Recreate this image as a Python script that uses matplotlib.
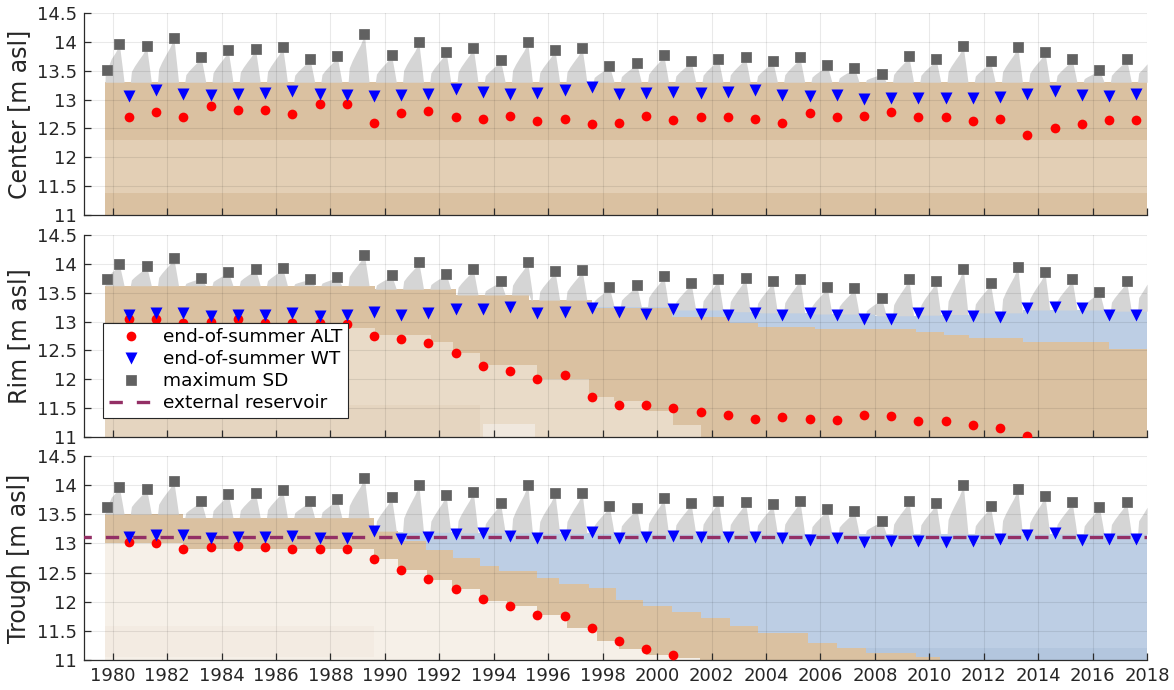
import numpy as np
import matplotlib
matplotlib.use('Agg')
import matplotlib.pyplot as plt
from matplotlib.lines import Line2D
from matplotlib.ticker import FormatStrFormatter

# ---- yearly markers ---------------------------------------------------------
years = np.arange(1980, 2018)
summer_end = years + 0.6                      # end-of-summer dates
sd_time = np.r_[1979.8, years + 0.25]         # dates of the snow maximum
run_start = 1979.72
run_end = 2018.0

center_sd_max = [13.52, 13.96, 13.92, 14.07, 13.74, 13.85, 13.88, 13.91, 13.71, 13.75,
                 14.13, 13.77, 13.99, 13.83, 13.90, 13.68, 13.99, 13.86, 13.89, 13.58,
                 13.63, 13.77, 13.67, 13.71, 13.73, 13.67, 13.73, 13.60, 13.55, 13.45,
                 13.75, 13.70, 13.92, 13.66, 13.91, 13.82, 13.70, 13.51, 13.70]
center_alt = [12.70, 12.79, 12.69, 12.88, 12.82, 12.82, 12.75, 12.93, 12.93, 12.59,
              12.76, 12.81, 12.70, 12.66, 12.72, 12.63, 12.66, 12.57, 12.59, 12.72,
              12.64, 12.70, 12.70, 12.66, 12.60, 12.76, 12.70, 12.72, 12.79, 12.70,
              12.69, 12.63, 12.66, 12.39, 12.51, 12.57, 12.64, 12.64]
center_wt = [13.07, 13.16, 13.10, 13.08, 13.09, 13.11, 13.14, 13.09, 13.08, 13.07,
             13.08, 13.09, 13.19, 13.13, 13.10, 13.11, 13.16, 13.22, 13.10, 13.11,
             13.13, 13.11, 13.13, 13.16, 13.08, 13.07, 13.08, 13.01, 13.03, 13.03,
             13.02, 13.03, 13.05, 13.10, 13.14, 13.08, 13.07, 13.10]

rim_sd_max = [13.73, 13.99, 13.96, 14.10, 13.76, 13.86, 13.91, 13.92, 13.74, 13.77,
              14.16, 13.80, 14.03, 13.83, 13.91, 13.70, 14.03, 13.88, 13.89, 13.59,
              13.63, 13.79, 13.67, 13.73, 13.76, 13.70, 13.74, 13.60, 13.58, 13.40,
              13.74, 13.70, 13.91, 13.66, 13.95, 13.85, 13.73, 13.52, 13.70]
rim_alt = [13.04, 13.04, 12.98, 13.00, 13.04, 12.98, 12.98, 12.98, 12.96, 12.75,
           12.69, 12.63, 12.45, 12.23, 12.15, 12.01, 12.07, 11.69, 11.56, 11.55,
           11.50, 11.44, 11.38, 11.31, 11.34, 11.31, 11.29, 11.38, 11.36, 11.27,
           11.27, 11.21, 11.15, 11.01, np.nan, np.nan, np.nan, np.nan]
rim_wt = [13.11, 13.14, 13.14, 13.10, 13.11, 13.11, 13.14, 13.10, 13.11, 13.17,
          13.12, 13.14, 13.22, 13.22, 13.26, 13.15, 13.16, 13.23, 13.16, 13.13,
          13.21, 13.13, 13.12, 13.15, 13.11, 13.14, 13.11, 13.04, 13.05, 13.14,
          13.09, 13.09, 13.07, 13.24, 13.26, 13.24, 13.12, 13.11]

trough_sd_max = [13.63, 13.97, 13.94, 14.07, 13.73, 13.85, 13.87, 13.91, 13.73, 13.76,
                 14.13, 13.79, 14.01, 13.83, 13.89, 13.70, 14.01, 13.86, 13.86, 13.64,
                 13.61, 13.78, 13.69, 13.73, 13.71, 13.67, 13.73, 13.59, 13.56, 13.39,
                 13.73, 13.69, 14.00, 13.64, 13.94, 13.82, 13.71, 13.63, 13.71]
trough_alt = [13.02, 13.00, 12.90, 12.93, 12.96, 12.93, 12.90, 12.90, 12.90, 12.73,
              12.55, 12.39, 12.21, 12.04, 11.93, 11.78, 11.75, 11.55, 11.32, 11.19,
              11.09] + [np.nan] * 17
trough_wt = [13.11, 13.15, 13.15, 13.09, 13.11, 13.11, 13.12, 13.09, 13.09, 13.22,
             13.08, 13.11, 13.16, 13.18, 13.13, 13.10, 13.14, 13.20, 13.10, 13.11,
             13.12, 13.11, 13.11, 13.11, 13.09, 13.05, 13.09, 13.03, 13.04, 13.04,
             13.03, 13.04, 13.07, 13.15, 13.18, 13.05, 13.08, 13.08]

reservoir_level = 13.11

# snow depth reached at the end of the record (season 2017/18 still running)
center_sd_edge = 13.62
rim_sd_edge = 13.65
trough_sd_edge = 13.62

# ---- ground / water stratigraphy (step changes) -----------------------------
center_surf = 13.30
center_layers = [12.30, 11.38]

rim_t = [1979.72, 1989.65, 1992.6, 1995.3, 1997.6, 2000.55, 2002.66, 2003.7,
         2005.8, 2008.0, 2009.5, 2010.55, 2011.47, 2013.45, 2016.6]
rim_surf = [13.62, 13.56, 13.46, 13.37, 13.24, 13.08, 12.97, 12.91,
            12.87, 12.87, 12.82, 12.77, 12.71, 12.65, 12.53]
rim_water = [13.62, 13.56, 13.46, 13.37, 13.26, 13.20, 13.17, 13.15,
             13.13, 13.10, 13.11, 13.12, 13.15, 13.20, 13.18]
rim_ice_t = [1979.72, 1989.65, 1991.7, 1992.5, 1993.5, 1995.6, 1997.5, 1998.4,
             1999.6, 2000.6]
rim_ice = [12.88, 12.77, 12.64, 12.46, 12.25, 12.01, 11.70, 11.62, 11.45, 11.20]
rim_ice_end = 2001.6

trough_t = [1979.72, 1982.6, 1989.6, 1990.5, 1991.5, 1992.5, 1993.5, 1994.2,
            1995.6, 1996.4, 1997.5, 1998.5, 1999.5, 2000.55, 2001.6, 2002.66,
            2003.7, 2005.55, 2006.6, 2007.66, 2009.5, 2010.4]
trough_surf = [13.50, 13.44, 13.21, 13.04, 12.89, 12.75, 12.61, 12.52,
               12.41, 12.30, 12.23, 12.03, 11.92, 11.83, 11.72, 11.58,
               11.47, 11.29, 11.21, 11.12, 11.05, 11.00]
trough_water = [13.50, 13.44, 13.21, 13.19, 13.19, 13.18, 13.18, 13.18,
                13.17, 13.17, 13.17, 13.17, 13.16, 13.16, 13.16, 13.16,
                13.16, 13.16, 13.16, 13.16, 13.16, 13.16]
trough_ice_t = [1979.72, 1982.6, 1989.6, 1990.5, 1991.56, 1992.48, 1993.5, 1994.5,
                1995.6, 1996.7, 1997.8, 1998.6, 1999.6, 2000.6]
trough_ice = [13.00, 12.90, 12.73, 12.54, 12.38, 12.21, 12.02, 11.92,
              11.77, 11.55, 11.33, 11.18, 11.09, 11.03]
trough_ice_end = 2001.56

# snow season outline relative to the day of maximum snow depth
SNOW_SHAPE = [(-0.60, 0.0), (-0.56, 0.30), (-0.45, 0.45), (-0.30, 0.62),
              (-0.15, 0.78), (-0.05, 0.92), (0.0, 1.0), (0.04, 0.75),
              (0.12, 0.30), (0.17, 0.0)]

TAN = '#dac1a1'
TAN_LIGHT = '#e3cfb5'
TAN_PALE = '#e9dbc8'
CREAM = '#f6f0e8'
WATER = '#bdcee4'
SNOW = '#d5d5d5'


def step_value(t_nodes, v_nodes, t):
    idx = np.searchsorted(t_nodes, t, side='right') - 1
    idx = np.clip(idx, 0, len(v_nodes) - 1)
    return np.asarray(v_nodes, dtype=float)[idx]


def fill_steps(ax, t_nodes, lower, upper, color, t_end=run_end, zorder=1):
    t = np.append(t_nodes, t_end)
    lo = np.broadcast_to(np.asarray(lower, dtype=float), (len(t_nodes),))
    hi = np.broadcast_to(np.asarray(upper, dtype=float), (len(t_nodes),))
    lo = np.append(lo, lo[-1])
    hi = np.append(hi, hi[-1])
    ax.fill_between(t, lo, hi, step='post', color=color, lw=0, zorder=zorder)


def draw_snow(ax, sd_max, sd_edge, base_t, base_v):
    sd_max = np.asarray(sd_max)
    for k in range(1, len(sd_max)):
        tp = sd_time[k]
        b0 = step_value(base_t, base_v, tp)
        depth = sd_max[k] - b0
        pts = [(tp + dt, b0 + f * depth) for dt, f in SNOW_SHAPE]
        if k == 1:
            # the run starts in the middle of the first snow season
            first = sd_max[0]
            pts = [(run_start, b0), (run_start + 0.005, b0 + 0.6 * (first - b0)),
                   (sd_time[0], first)] + [p for p in pts if p[0] > sd_time[0] + 0.05]
        t = [p[0] for p in pts]
        v = [p[1] for p in pts]
        ax.fill_between(t, step_value(base_t, base_v, np.array(t)), v,
                        color=SNOW, lw=0, zorder=1.2)
    # season still building up at the end of the record
    b0 = step_value(base_t, base_v, run_end)
    t = [run_end - 0.35, run_end - 0.31, run_end - 0.15, run_end]
    v = [b0, b0 + 0.5 * (sd_edge - b0), b0 + 0.75 * (sd_edge - b0), sd_edge]
    ax.fill_between(t, b0, v, color=SNOW, lw=0, zorder=1.2)


def draw_markers(ax, alt, wt, sd_max):
    h_alt, = ax.plot(summer_end, alt, 'o', color='#ff0000', ms=7, mec='none', zorder=4)
    h_wt, = ax.plot(summer_end, wt, 'v', color='#0000ff', ms=8, mec='none', zorder=4.1)
    h_sd, = ax.plot(sd_time, sd_max, 's', color='#616161', ms=7, mec='#6d6d6d',
                    mew=0.6, zorder=4.2)
    return h_alt, h_wt, h_sd


def style_axes(ax, ylabel, show_xlabels):
    ax.set_xlim(1978.95, 2018)
    ax.set_ylim(11, 14.5)
    ax.set_xticks(np.arange(1980, 2019, 2))
    ax.set_yticks(np.arange(11, 14.51, 0.5))
    ax.yaxis.set_major_formatter(FormatStrFormatter('%g'))
    if not show_xlabels:
        ax.set_xticklabels([])
    ax.set_axisbelow(False)
    ax.grid(True, color='k', alpha=0.085, lw=0.8, zorder=2.5)
    for side in ['top', 'right']:
        ax.spines[side].set_visible(False)
    for side in ['left', 'bottom']:
        ax.spines[side].set_color('#2b2b2b')
        ax.spines[side].set_linewidth(0.9)
    ax.tick_params(direction='in', length=5, width=0.9, color='#2b2b2b',
                   labelsize=13, labelcolor='#262626', pad=5)
    ax.set_ylabel(ylabel, fontsize=17, color='#262626', labelpad=4)


fig = plt.figure(figsize=(11.74, 6.90), dpi=100)
ax1 = fig.add_axes([0.0716, 0.6884, 0.9055, 0.2928])
ax2 = fig.add_axes([0.0716, 0.3667, 0.9055, 0.2928])
ax3 = fig.add_axes([0.0716, 0.0435, 0.9055, 0.2957])

# center: undisturbed layering
fill_steps(ax1, [run_start], 11.0, center_surf, TAN)
fill_steps(ax1, [run_start], center_layers[1], center_layers[0], TAN_LIGHT)
draw_snow(ax1, center_sd_max, center_sd_edge, [run_start], [center_surf])
draw_markers(ax1, center_alt, center_wt, center_sd_max)
style_axes(ax1, 'Center [m asl]', False)

# rim: ice-rich ground thaws and the surface subsides below the water level
fill_steps(ax2, rim_t, rim_surf, rim_water, WATER)
fill_steps(ax2, rim_t, 11.0, rim_surf, TAN)
fill_steps(ax2, rim_ice_t, 11.0, rim_ice, TAN_PALE, t_end=rim_ice_end)
fill_steps(ax2, [run_start], 11.0, 11.55, '#e5d5c0', t_end=1993.5)
fill_steps(ax2, [1993.6], 11.0, 11.22, '#f0e8de', t_end=1995.5)
draw_snow(ax2, rim_sd_max, rim_sd_edge, rim_t, rim_water)
h_alt, h_wt, h_sd = draw_markers(ax2, rim_alt, rim_wt, rim_sd_max)
style_axes(ax2, 'Rim [m asl]', False)

# trough: surface drops far below the pond level
fill_steps(ax3, trough_t, trough_surf, trough_water, WATER)
fill_steps(ax3, [2007.6], 11.0, 11.2, '#b3c6de')
fill_steps(ax3, trough_t, 11.0, trough_surf, TAN)
fill_steps(ax3, trough_ice_t, 11.0, trough_ice, CREAM, t_end=trough_ice_end)
fill_steps(ax3, [run_start], 11.05, 11.58, '#f3ebe2', t_end=1989.6)
draw_snow(ax3, trough_sd_max, trough_sd_edge, trough_t, trough_water)
ax3.plot([run_start - 1, run_end], [reservoir_level, reservoir_level],
         color='#932f65', lw=2.4, ls=(0, (4.0, 4.2)), zorder=3.5)
draw_markers(ax3, trough_alt, trough_wt, trough_sd_max)
style_axes(ax3, 'Trough [m asl]', True)

h_res = Line2D([], [], color='#932f65', lw=2.4, ls=(0, (4.0, 4.2)))
leg = ax2.legend([h_alt, h_wt, h_sd, h_res],
                 ['end-of-summer ALT', 'end-of-summer WT', 'maximum SD', 'external reservoir'],
                 loc='lower left', bbox_to_anchor=(0.018, 0.094), fontsize=13.3,
                 frameon=True, fancybox=False, framealpha=1, edgecolor='#262626',
                 handlelength=2.4, labelspacing=0.22, borderpad=0.3, handletextpad=0.55,
                 borderaxespad=0)
leg.get_frame().set_linewidth(0.8)
leg.set_zorder(10)

fig.savefig('out.png', dpi=100)
plt.close()
